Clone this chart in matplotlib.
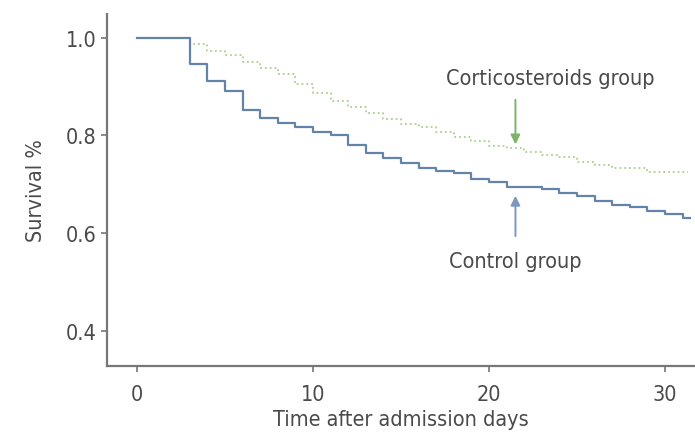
import matplotlib
matplotlib.use("Agg")
import matplotlib.pyplot as plt

# Kaplan-Meier style step data
ctrl_days = [0, 3, 4, 5, 6, 7, 8, 9, 10, 11, 12, 13, 14, 15, 16, 17, 18, 19,
             20, 21, 23, 24, 25, 26, 27, 28, 29, 30, 31, 31.4]
ctrl_surv = [1.0, 0.947, 0.912, 0.892, 0.853, 0.836, 0.826, 0.817, 0.807, 0.80,
             0.78, 0.764, 0.753, 0.744, 0.733, 0.728, 0.723, 0.711, 0.704, 0.694,
             0.690, 0.682, 0.675, 0.666, 0.657, 0.653, 0.646, 0.640, 0.630, 0.630]

cort_days = [0, 3, 4, 5, 6, 7, 8, 9, 10, 11, 12, 13, 14, 15, 16, 17, 18, 19,
             20, 21, 22, 23, 24, 25, 26, 27, 29, 31.3]
cort_surv = [1.0, 0.988, 0.974, 0.964, 0.950, 0.938, 0.926, 0.906, 0.887, 0.871,
             0.858, 0.846, 0.834, 0.824, 0.817, 0.807, 0.796, 0.789, 0.779, 0.774,
             0.766, 0.759, 0.755, 0.745, 0.739, 0.733, 0.726, 0.726]

x_ticks = [0, 10, 20, 30]
y_ticks = [0.4, 0.6, 0.8, 1.0]

plt.rcParams['font.family'] = ['DejaVu Sans']
plt.rcParams['font.stretch'] = 'condensed'
txt = '#4a4a4a'
blue = '#6483a8'
green = '#a9d08e'
fs = 15.5

fig = plt.figure(figsize=(6.95, 4.35), dpi=100)
ax = fig.add_axes([0.154, 0.157, 0.846, 0.8085])

ax.step(cort_days, cort_surv, where='post', color=green, lw=1.3, ls=':')
ax.step(ctrl_days, ctrl_surv, where='post', color=blue, lw=1.6)

ax.set_xlim(-1.7, 31.7)
ax.set_ylim(0.328, 1.049)
ax.set_xticks(x_ticks)
ax.set_yticks(y_ticks)
ax.set_yticklabels(['%.1f' % v for v in y_ticks])

for s in ['top', 'right']:
    ax.spines[s].set_visible(False)
for s in ['left', 'bottom']:
    ax.spines[s].set_color('#777777')
    ax.spines[s].set_linewidth(1.6)
ax.tick_params(colors='#777777', labelcolor=txt, labelsize=fs, length=4, width=1.2)
ax.tick_params(axis='x', pad=9)

ax.set_xlabel('Time after admission days', fontsize=fs, color=txt, labelpad=4)
ax.set_ylabel('Survival %', fontsize=fs, color=txt, labelpad=14)

ax.annotate('', xy=(21.5, 0.776), xytext=(21.5, 0.879),
            arrowprops=dict(arrowstyle='-|>', color='#7cb36a', lw=1.4, mutation_scale=14))
ax.text(23.5, 0.918, 'Corticosteroids group', fontsize=fs, color=txt,
        ha='center', va='center')
ax.annotate('', xy=(21.5, 0.682), xytext=(21.5, 0.588),
            arrowprops=dict(arrowstyle='-|>', color='#7d98bd', lw=1.4, mutation_scale=14))
ax.text(21.5, 0.543, 'Control group', fontsize=fs, color=txt,
        ha='center', va='center')

fig.savefig('out.png', dpi=100)
